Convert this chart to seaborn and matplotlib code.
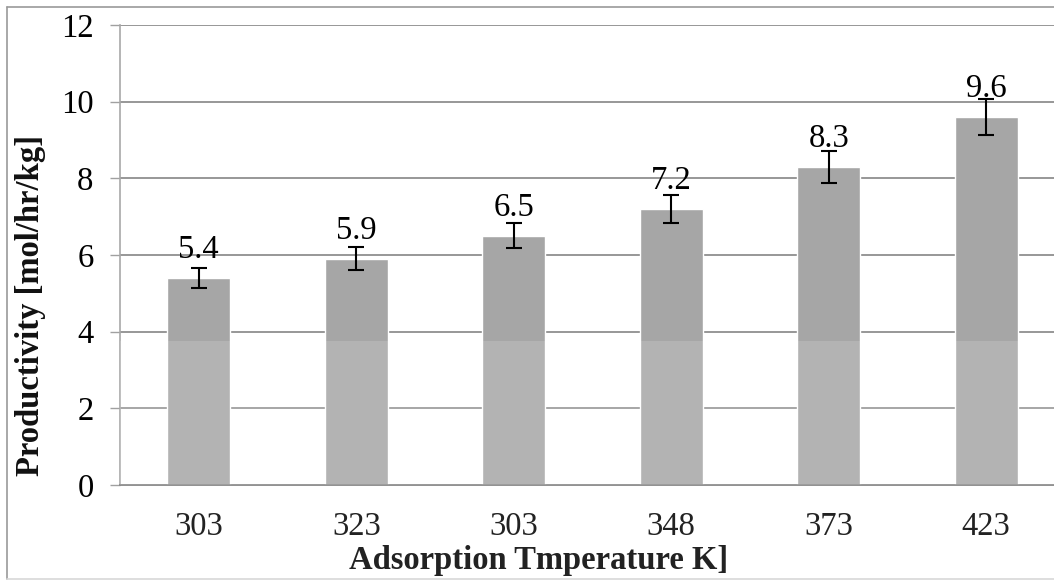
import matplotlib
matplotlib.use("Agg")
import matplotlib.pyplot as plt
import seaborn as sns
import pandas as pd
from matplotlib.lines import Line2D

# Adsorption temperatures (K) and measured productivity
temperatures = ["303", "323", "303", "348", "373", "423"]
productivity = [5.4, 5.9, 6.5, 7.2, 8.3, 9.6]
errors = [0.27, 0.30, 0.33, 0.36, 0.42, 0.48]
value_labels = ["5.4", "5.9", "6.5", "7.2", "8.3", "9.6"]
y_ticks = [0, 2, 4, 6, 8, 10, 12]

sns.set_theme(style="white")
plt.rcParams["font.family"] = ["Liberation Serif", "DejaVu Serif"]

FS = 23.5
W, H = 1054, 581
fig = plt.figure(figsize=(W / 100, H / 100), dpi=100)
ax = fig.add_axes([120 / W, 96 / H, 945 / W, 460 / H])

df = pd.DataFrame({"slot": [str(i) for i in range(len(temperatures))],
                   "productivity": productivity})
sns.barplot(data=df, x="slot", y="productivity", color="#a6a6a6",
            saturation=1, width=0.4, ax=ax, zorder=2, errorbar=None)

centers = [p.get_x() + p.get_width() / 2 for p in ax.patches]
ax.errorbar(centers, productivity, yerr=errors, fmt="none", ecolor="black",
            elinewidth=1.5, capsize=6, capthick=1.5, zorder=4)

for x, v, lab in zip(centers, productivity, value_labels):
    ax.annotate(lab, (x, v), xytext=(0, 14.5), textcoords="offset points",
                ha="center", va="baseline", fontsize=FS, color="black", zorder=5)

# pale band over the lower part of the plot
ax.axhspan(0, 3.76, color="white", alpha=0.15, zorder=3, lw=0)

ax.set_ylim(0, 12)
ax.set_xlim(-0.5, len(temperatures) - 0.5)
ax.set_yticks(y_ticks)
ax.set_yticklabels([str(t) for t in y_ticks], fontsize=FS)
ax.set_xticks(range(len(temperatures)))
ax.set_xticklabels(temperatures, fontsize=FS)
ax.yaxis.grid(True, color="#8f8f8f", linewidth=1.3, zorder=1)
ax.set_axisbelow(True)
ax.tick_params(axis="y", which="major", left=True, length=7, width=1,
               color="#a0a0a0", pad=12, labelcolor="black")
ax.tick_params(axis="x", which="major", bottom=False, pad=13, labelcolor="#222222")
for side in ["top", "right"]:
    ax.spines[side].set_visible(False)
ax.spines["left"].set_color("#a8a8a8")
ax.spines["left"].set_linewidth(1.2)
ax.spines["bottom"].set_color("#888888")
ax.spines["bottom"].set_linewidth(1.3)
ax.set_xlabel("")
ax.set_ylabel("")

fig.text(31 / W, 1 - 305 / H, "Productivity [mol/hr/kg]", rotation=90,
         ha="center", va="center", fontsize=FS, fontweight="bold", color="#111111")
fig.text(539 / W, 1 - 560 / H, "Adsorption Tmperature K]",
         ha="center", va="center", fontsize=FS, fontweight="bold", color="#222222")

# outer chart frame
frame_kw = dict(color="#9a9a9a", linewidth=1.2, transform=fig.transFigure)
fig.add_artist(Line2D([7 / W, 7 / W], [1 - 7 / H, 1 - 579 / H], **frame_kw))
fig.add_artist(Line2D([7 / W, 1.0], [1 - 7 / H, 1 - 7 / H], **frame_kw))
fig.add_artist(Line2D([7 / W, 1.0], [1 - 579 / H, 1 - 579 / H],
                      color="#d8d8d8", linewidth=1.2, transform=fig.transFigure))

fig.savefig("out.png", dpi=100)
